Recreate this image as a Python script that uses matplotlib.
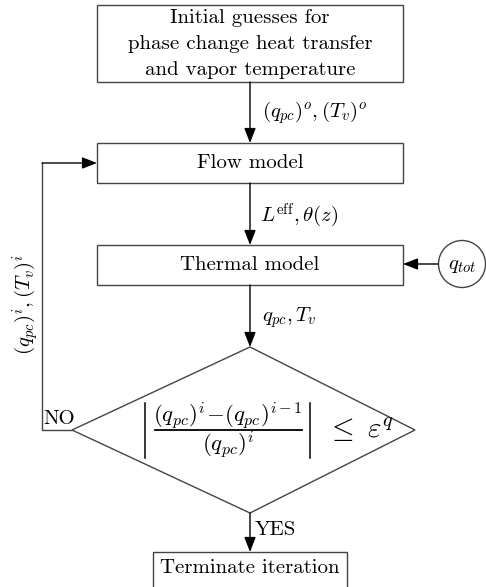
import matplotlib
matplotlib.use('Agg')
import matplotlib.pyplot as plt
from matplotlib.patches import Rectangle, Polygon, Circle

plt.rcParams['font.family'] = 'cmr10'
plt.rcParams['mathtext.fontset'] = 'cm'
plt.rcParams['axes.unicode_minus'] = False

# text content of the flowchart
box_labels = ['Initial guesses for\nphase change heat transfer\nand vapor temperature',
              'Flow model', 'Thermal model', 'Terminate iteration']
edge_labels = [r'$(q_{pc})^o, (T_v)^o$', r'$L^{\mathrm{eff}}, \theta(z)$', r'$q_{pc}, T_v$']
loop_label = r'$(q_{pc})^i, (T_v)^i$'
input_label = r'$q_{tot}$'
crit_num = r'$(q_{pc})^i\!-\!(q_{pc})^{i-1}$'
crit_den = r'$(q_{pc})^i$'
crit_rhs = r'$\leq\ \varepsilon^q$'
branch_labels = ['NO', 'YES']

lc = '#444444'
fs = 15

fig = plt.figure(figsize=(4.86, 5.87), dpi=100)
ax = fig.add_axes([0, 0, 1, 1])
ax.set_xlim(0, 486)
ax.set_ylim(587, 0)
ax.axis('off')

cx = 250
# boxes: (left, top, right, bottom)
boxes = [(97, 5, 403, 82), (97, 143, 403, 183), (97, 245, 403, 285), (153, 552, 347, 600)]
for (l, t, r, b), lab in zip(boxes, box_labels):
    ax.add_patch(Rectangle((l, t), r - l, b - t, fill=False, ec=lc, lw=1.0))
    if '\n' in lab:
        for k, line in enumerate(lab.split('\n')):
            ax.text(cx, 18 + 26 * k, line, ha='center', va='center', fontsize=fs)
    else:
        ax.text(cx, (t + b) / 2 if b < 590 else 568, lab, ha='center', va='center', fontsize=fs)

# decision diamond
dtop, dbot, dl, dr = 347, 513, 72, 415
dy = (dtop + dbot) / 2
ax.add_patch(Polygon([(cx, dtop), (dr, dy), (cx, dbot), (dl, dy)], closed=True, fill=False, ec=lc, lw=1.0))
# convergence criterion, built as |num / den| <= eps^q
ax.text(228, 416, crit_num, ha='center', va='center', fontsize=16.5)
ax.plot([155, 302], [430, 430], color='black', lw=1.3)
ax.text(228, 445, crit_den, ha='center', va='center', fontsize=16.5)
ax.plot([145, 145], [403, 458], color='black', lw=1.1)
ax.plot([310, 310], [403, 458], color='black', lw=1.1)
ax.text(326, dy, crit_rhs, ha='left', va='center', fontsize=21)

arrow = dict(arrowstyle='-|>,head_length=0.9,head_width=0.35', color='black', lw=1.0, shrinkA=0, shrinkB=0)
line_kw = dict(color=lc, lw=1.0)

def arr(x0, y0, x1, y1):
    ax.annotate('', xy=(x1, y1), xytext=(x0, y0), arrowprops=arrow)

# vertical flow
arr(cx, 82, cx, 143)
arr(cx, 183, cx, 245)
arr(cx, 285, cx, dtop)
arr(cx, dbot, cx, 552)
ax.text(262, 113, edge_labels[0], ha='left', va='center', fontsize=fs)
ax.text(260, 216, edge_labels[1], ha='left', va='center', fontsize=fs)
ax.text(262, 318, edge_labels[2], ha='left', va='center', fontsize=fs)

# heat input
ax.add_patch(Circle((462, 264), 23.5, fill=False, ec=lc, lw=1.0))
ax.text(462, 266, input_label, ha='center', va='center', fontsize=fs)
arr(438, 264, 403, 264)

# loop back
ax.plot([dl, 42, 42], [dy, dy, 163], **line_kw)
arr(42, 163, 97, 163)
ax.text(26, 304, loop_label, ha='center', va='center', rotation=90, fontsize=fs)
ax.text(43, 428, branch_labels[0], ha='left', va='bottom', fontsize=fs)
ax.text(255, 530, branch_labels[1], ha='left', va='center', fontsize=fs)

fig.savefig('out.png', dpi=100)
